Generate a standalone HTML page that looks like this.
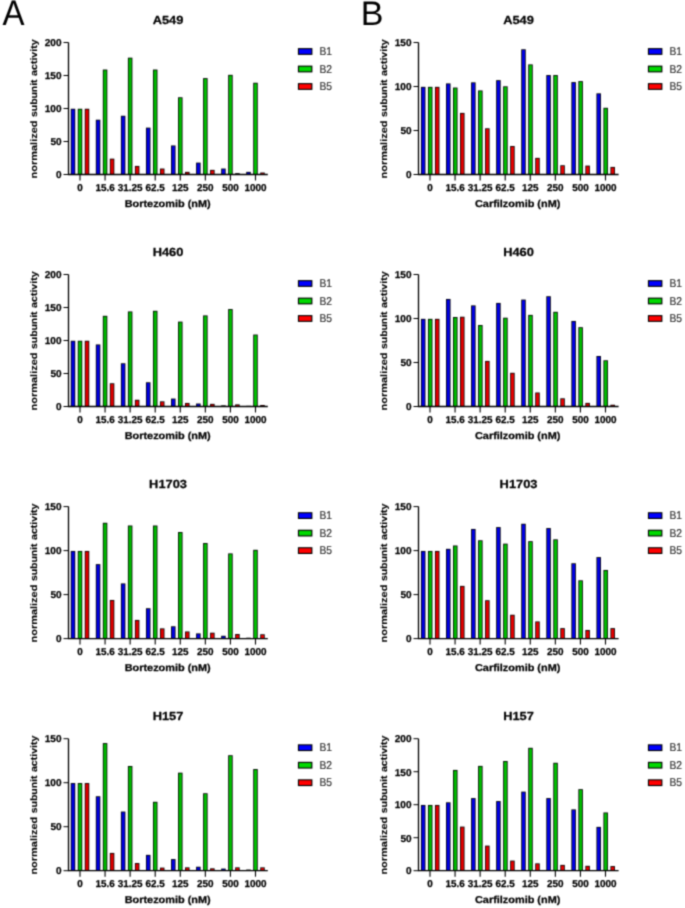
<!DOCTYPE html>
<html><head><meta charset="utf-8"><title>Proteasome subunit activity</title>
<style>
html,body{margin:0;padding:0;background:#fff;}
body{width:685px;height:908px;overflow:hidden;}
svg{display:block;}
text{font-family:"Liberation Sans",sans-serif;fill:#000;text-rendering:geometricPrecision;stroke:#000;stroke-width:0.25px;stroke-linejoin:round;}
.pl{stroke:none;}
.ya{stroke-width:0.1px;}
.lg{stroke:#333;stroke-width:0.2px;}
.yt{font-size:10px;font-weight:bold;text-anchor:end;}
.xt{font-size:10px;font-weight:bold;text-anchor:middle;}
.ti{font-size:11.7px;font-weight:bold;text-anchor:middle;}
.xa{font-size:10px;font-weight:bold;text-anchor:middle;}
.ya{font-size:9.4px;font-weight:bold;text-anchor:start;}
.lg{font-size:11.4px;text-anchor:start;fill:#333;}
.pl{font-size:34px;}
</style></head>
<body>
<svg width="685" height="908" viewBox="0 0 685 908">
<defs><filter id="bl" x="0" y="0" width="685" height="908" filterUnits="userSpaceOnUse" color-interpolation-filters="sRGB"><feConvolveMatrix order="3" kernelMatrix="0.03607 0.11778 0.03607 0.11778 0.38462 0.11778 0.03607 0.11778 0.03607" divisor="1" edgeMode="duplicate" preserveAlpha="true"/></filter></defs>
<g filter="url(#bl)">
<rect width="685" height="908" fill="#fff"/>
<text transform="translate(2.5 25) scale(0.93 1)" class="pl" style="font-size:35.5px">A</text>
<text x="360.8" y="25" class="pl">B</text>
<g>
<rect x="70.75" y="108.76" width="4.5" height="65.74" fill="#000"/>
<rect x="71.55" y="109.56" width="2.9" height="64.94" fill="#0000e6"/>
<rect x="77.75" y="108.76" width="4.5" height="65.74" fill="#000"/>
<rect x="78.55" y="109.56" width="2.9" height="64.94" fill="#00be00"/>
<rect x="84.75" y="108.76" width="4.5" height="65.74" fill="#000"/>
<rect x="85.55" y="109.56" width="2.9" height="64.94" fill="#e60000"/>
<rect x="95.82" y="119.72" width="4.5" height="54.78" fill="#000"/>
<rect x="96.62" y="120.52" width="2.9" height="53.98" fill="#0000e6"/>
<rect x="102.82" y="69.56" width="4.5" height="104.94" fill="#000"/>
<rect x="103.62" y="70.36" width="2.9" height="104.14" fill="#00be00"/>
<rect x="109.82" y="158.66" width="4.5" height="15.84" fill="#000"/>
<rect x="110.62" y="159.46" width="2.9" height="15.04" fill="#e60000"/>
<rect x="120.89" y="115.76" width="4.5" height="58.74" fill="#000"/>
<rect x="121.69" y="116.56" width="2.9" height="57.94" fill="#0000e6"/>
<rect x="127.89" y="57.68" width="4.5" height="116.82" fill="#000"/>
<rect x="128.69" y="58.48" width="2.9" height="116.02" fill="#00be00"/>
<rect x="134.89" y="165.92" width="4.5" height="8.58" fill="#000"/>
<rect x="135.69" y="166.72" width="2.9" height="7.78" fill="#e60000"/>
<rect x="145.96" y="127.64" width="4.5" height="46.86" fill="#000"/>
<rect x="146.76" y="128.44" width="2.9" height="46.06" fill="#0000e6"/>
<rect x="152.96" y="69.56" width="4.5" height="104.94" fill="#000"/>
<rect x="153.76" y="70.36" width="2.9" height="104.14" fill="#00be00"/>
<rect x="159.96" y="168.56" width="4.5" height="5.94" fill="#000"/>
<rect x="160.76" y="169.36" width="2.9" height="5.14" fill="#e60000"/>
<rect x="171.03" y="145.46" width="4.5" height="29.04" fill="#000"/>
<rect x="171.83" y="146.26" width="2.9" height="28.24" fill="#0000e6"/>
<rect x="178.03" y="97.28" width="4.5" height="77.22" fill="#000"/>
<rect x="178.83" y="98.08" width="2.9" height="76.42" fill="#00be00"/>
<rect x="185.03" y="171.86" width="4.5" height="2.64" fill="#000"/>
<rect x="185.83" y="172.66" width="2.9" height="1.84" fill="#e60000"/>
<rect x="196.1" y="162.62" width="4.5" height="11.88" fill="#000"/>
<rect x="196.9" y="163.42" width="2.9" height="11.08" fill="#0000e6"/>
<rect x="203.1" y="78.14" width="4.5" height="96.36" fill="#000"/>
<rect x="203.9" y="78.94" width="2.9" height="95.56" fill="#00be00"/>
<rect x="210.1" y="169.88" width="4.5" height="4.62" fill="#000"/>
<rect x="210.9" y="170.68" width="2.9" height="3.82" fill="#e60000"/>
<rect x="221.17" y="168.56" width="4.5" height="5.94" fill="#000"/>
<rect x="221.97" y="169.36" width="2.9" height="5.14" fill="#0000e6"/>
<rect x="228.17" y="74.84" width="4.5" height="99.66" fill="#000"/>
<rect x="228.97" y="75.64" width="2.9" height="98.86" fill="#00be00"/>
<rect x="235.17" y="173.18" width="4.5" height="1.32" fill="#000"/>
<rect x="235.97" y="173.98" width="2.9" height="0.52" fill="#e60000"/>
<rect x="246.24" y="171.86" width="4.5" height="2.64" fill="#000"/>
<rect x="247.04" y="172.66" width="2.9" height="1.84" fill="#0000e6"/>
<rect x="253.24" y="82.76" width="4.5" height="91.74" fill="#000"/>
<rect x="254.04" y="83.56" width="2.9" height="90.94" fill="#00be00"/>
<rect x="260.24" y="172.52" width="4.5" height="1.98" fill="#000"/>
<rect x="261.04" y="173.32" width="2.9" height="1.18" fill="#e60000"/>
<path d="M68.5 42.5V174.5H267.8" fill="none" stroke="#000" stroke-width="1.3"/>
<path d="M63.5 174.5H68.5" stroke="#000" stroke-width="1"/>
<text x="61.5" y="178" class="yt">0</text>
<path d="M63.5 141.5H68.5" stroke="#000" stroke-width="1"/>
<text x="61.5" y="145" class="yt">50</text>
<path d="M63.5 108.5H68.5" stroke="#000" stroke-width="1"/>
<text x="61.5" y="112" class="yt">100</text>
<path d="M63.5 75.5H68.5" stroke="#000" stroke-width="1"/>
<text x="61.5" y="79" class="yt">150</text>
<path d="M63.5 42.5H68.5" stroke="#000" stroke-width="1"/>
<text x="61.5" y="46" class="yt">200</text>
<path d="M80 174.5V180.5" stroke="#000" stroke-width="1.1"/>
<text transform="translate(80 190.8) scale(0.99 1)" class="xt">0</text>
<path d="M105.07 174.5V180.5" stroke="#000" stroke-width="1.1"/>
<text transform="translate(105.07 190.8) scale(0.99 1)" class="xt">15.6</text>
<path d="M130.14 174.5V180.5" stroke="#000" stroke-width="1.1"/>
<text transform="translate(130.14 190.8) scale(0.99 1)" class="xt">31.25</text>
<path d="M155.21 174.5V180.5" stroke="#000" stroke-width="1.1"/>
<text transform="translate(155.21 190.8) scale(0.99 1)" class="xt">62.5</text>
<path d="M180.28 174.5V180.5" stroke="#000" stroke-width="1.1"/>
<text transform="translate(180.28 190.8) scale(0.99 1)" class="xt">125</text>
<path d="M205.35 174.5V180.5" stroke="#000" stroke-width="1.1"/>
<text transform="translate(205.35 190.8) scale(0.99 1)" class="xt">250</text>
<path d="M230.42 174.5V180.5" stroke="#000" stroke-width="1.1"/>
<text transform="translate(230.42 190.8) scale(0.99 1)" class="xt">500</text>
<path d="M255.49 174.5V180.5" stroke="#000" stroke-width="1.1"/>
<text transform="translate(255.49 190.8) scale(0.99 1)" class="xt">1000</text>
<text transform="translate(168.05 24.2) scale(1.1 1)" class="ti">A549</text>
<text transform="translate(167.65 207) scale(1.09 1)" class="xa">Bortezomib (nM)</text>
<text transform="translate(37.3 178.4) rotate(-90) scale(1.17 1)" class="ya">normalized</text>
<text transform="translate(37.3 117) rotate(-90) scale(1.11 1)" class="ya">subunit</text>
<text transform="translate(37.3 75.9) rotate(-90) scale(1.13 1)" class="ya">activity</text>
<rect x="297.9" y="48.1" width="14.5" height="6.8" fill="#000"/>
<rect x="299" y="49.2" width="12.3" height="4.6" fill="#0000ff"/>
<text transform="translate(319.5 55.1) scale(0.9 1)" class="lg">B1</text>
<rect x="297.9" y="65.6" width="14.5" height="6.8" fill="#000"/>
<rect x="299" y="66.7" width="12.3" height="4.6" fill="#00d800"/>
<text transform="translate(319.5 72.6) scale(0.9 1)" class="lg">B2</text>
<rect x="297.9" y="83.1" width="14.5" height="6.8" fill="#000"/>
<rect x="299" y="84.2" width="12.3" height="4.6" fill="#ff0000"/>
<text transform="translate(319.5 90.1) scale(0.9 1)" class="lg">B5</text>
</g>
<g>
<rect x="70.75" y="340.76" width="4.5" height="65.74" fill="#000"/>
<rect x="71.55" y="341.56" width="2.9" height="64.94" fill="#0000e6"/>
<rect x="77.75" y="340.76" width="4.5" height="65.74" fill="#000"/>
<rect x="78.55" y="341.56" width="2.9" height="64.94" fill="#00be00"/>
<rect x="84.75" y="340.76" width="4.5" height="65.74" fill="#000"/>
<rect x="85.55" y="341.56" width="2.9" height="64.94" fill="#e60000"/>
<rect x="95.82" y="344.46" width="4.5" height="62.04" fill="#000"/>
<rect x="96.62" y="345.26" width="2.9" height="61.24" fill="#0000e6"/>
<rect x="102.82" y="315.82" width="4.5" height="90.68" fill="#000"/>
<rect x="103.62" y="316.62" width="2.9" height="89.88" fill="#00be00"/>
<rect x="109.82" y="383.27" width="4.5" height="23.23" fill="#000"/>
<rect x="110.62" y="384.07" width="2.9" height="22.43" fill="#e60000"/>
<rect x="120.89" y="363.27" width="4.5" height="43.23" fill="#000"/>
<rect x="121.69" y="364.07" width="2.9" height="42.43" fill="#0000e6"/>
<rect x="127.89" y="311.46" width="4.5" height="95.04" fill="#000"/>
<rect x="128.69" y="312.26" width="2.9" height="94.24" fill="#00be00"/>
<rect x="134.89" y="399.77" width="4.5" height="6.73" fill="#000"/>
<rect x="135.69" y="400.57" width="2.9" height="5.93" fill="#e60000"/>
<rect x="145.96" y="382.28" width="4.5" height="24.22" fill="#000"/>
<rect x="146.76" y="383.08" width="2.9" height="23.42" fill="#0000e6"/>
<rect x="152.96" y="310.8" width="4.5" height="95.7" fill="#000"/>
<rect x="153.76" y="311.6" width="2.9" height="94.9" fill="#00be00"/>
<rect x="159.96" y="401.35" width="4.5" height="5.15" fill="#000"/>
<rect x="160.76" y="402.15" width="2.9" height="4.35" fill="#e60000"/>
<rect x="171.03" y="398.58" width="4.5" height="7.92" fill="#000"/>
<rect x="171.83" y="399.38" width="2.9" height="7.12" fill="#0000e6"/>
<rect x="178.03" y="321.62" width="4.5" height="84.88" fill="#000"/>
<rect x="178.83" y="322.42" width="2.9" height="84.08" fill="#00be00"/>
<rect x="185.03" y="402.94" width="4.5" height="3.56" fill="#000"/>
<rect x="185.83" y="403.74" width="2.9" height="2.76" fill="#e60000"/>
<rect x="196.1" y="403.53" width="4.5" height="2.97" fill="#000"/>
<rect x="196.9" y="404.33" width="2.9" height="2.17" fill="#0000e6"/>
<rect x="203.1" y="315.42" width="4.5" height="91.08" fill="#000"/>
<rect x="203.9" y="316.22" width="2.9" height="90.28" fill="#00be00"/>
<rect x="210.1" y="403.86" width="4.5" height="2.64" fill="#000"/>
<rect x="210.9" y="404.66" width="2.9" height="1.84" fill="#e60000"/>
<rect x="221.17" y="405.38" width="4.5" height="1.12" fill="#000"/>
<rect x="221.97" y="406.18" width="2.9" height="0.32" fill="#0000e6"/>
<rect x="228.17" y="309.08" width="4.5" height="97.42" fill="#000"/>
<rect x="228.97" y="309.88" width="2.9" height="96.62" fill="#00be00"/>
<rect x="235.17" y="404.39" width="4.5" height="2.11" fill="#000"/>
<rect x="235.97" y="405.19" width="2.9" height="1.31" fill="#e60000"/>
<rect x="246.24" y="405.84" width="4.5" height="0.66" fill="#000"/>
<rect x="253.24" y="334.56" width="4.5" height="71.94" fill="#000"/>
<rect x="254.04" y="335.36" width="2.9" height="71.14" fill="#00be00"/>
<rect x="260.24" y="404.98" width="4.5" height="1.52" fill="#000"/>
<rect x="261.04" y="405.78" width="2.9" height="0.72" fill="#e60000"/>
<path d="M68.5 274.5V406.5H267.8" fill="none" stroke="#000" stroke-width="1.3"/>
<path d="M63.5 406.5H68.5" stroke="#000" stroke-width="1"/>
<text x="61.5" y="410" class="yt">0</text>
<path d="M63.5 373.5H68.5" stroke="#000" stroke-width="1"/>
<text x="61.5" y="377" class="yt">50</text>
<path d="M63.5 340.5H68.5" stroke="#000" stroke-width="1"/>
<text x="61.5" y="344" class="yt">100</text>
<path d="M63.5 307.5H68.5" stroke="#000" stroke-width="1"/>
<text x="61.5" y="311" class="yt">150</text>
<path d="M63.5 274.5H68.5" stroke="#000" stroke-width="1"/>
<text x="61.5" y="278" class="yt">200</text>
<path d="M80 406.5V412.5" stroke="#000" stroke-width="1.1"/>
<text transform="translate(80 422.8) scale(0.99 1)" class="xt">0</text>
<path d="M105.07 406.5V412.5" stroke="#000" stroke-width="1.1"/>
<text transform="translate(105.07 422.8) scale(0.99 1)" class="xt">15.6</text>
<path d="M130.14 406.5V412.5" stroke="#000" stroke-width="1.1"/>
<text transform="translate(130.14 422.8) scale(0.99 1)" class="xt">31.25</text>
<path d="M155.21 406.5V412.5" stroke="#000" stroke-width="1.1"/>
<text transform="translate(155.21 422.8) scale(0.99 1)" class="xt">62.5</text>
<path d="M180.28 406.5V412.5" stroke="#000" stroke-width="1.1"/>
<text transform="translate(180.28 422.8) scale(0.99 1)" class="xt">125</text>
<path d="M205.35 406.5V412.5" stroke="#000" stroke-width="1.1"/>
<text transform="translate(205.35 422.8) scale(0.99 1)" class="xt">250</text>
<path d="M230.42 406.5V412.5" stroke="#000" stroke-width="1.1"/>
<text transform="translate(230.42 422.8) scale(0.99 1)" class="xt">500</text>
<path d="M255.49 406.5V412.5" stroke="#000" stroke-width="1.1"/>
<text transform="translate(255.49 422.8) scale(0.99 1)" class="xt">1000</text>
<text transform="translate(168.05 256.2) scale(1.1 1)" class="ti">H460</text>
<text transform="translate(167.65 439) scale(1.09 1)" class="xa">Bortezomib (nM)</text>
<text transform="translate(37.3 410.4) rotate(-90) scale(1.17 1)" class="ya">normalized</text>
<text transform="translate(37.3 349) rotate(-90) scale(1.11 1)" class="ya">subunit</text>
<text transform="translate(37.3 307.9) rotate(-90) scale(1.13 1)" class="ya">activity</text>
<rect x="297.9" y="280.1" width="14.5" height="6.8" fill="#000"/>
<rect x="299" y="281.2" width="12.3" height="4.6" fill="#0000ff"/>
<text transform="translate(319.5 287.1) scale(0.9 1)" class="lg">B1</text>
<rect x="297.9" y="297.6" width="14.5" height="6.8" fill="#000"/>
<rect x="299" y="298.7" width="12.3" height="4.6" fill="#00d800"/>
<text transform="translate(319.5 304.6) scale(0.9 1)" class="lg">B2</text>
<rect x="297.9" y="315.1" width="14.5" height="6.8" fill="#000"/>
<rect x="299" y="316.2" width="12.3" height="4.6" fill="#ff0000"/>
<text transform="translate(319.5 322.1) scale(0.9 1)" class="lg">B5</text>
</g>
<g>
<rect x="70.75" y="550.95" width="4.5" height="87.65" fill="#000"/>
<rect x="71.55" y="551.75" width="2.9" height="86.85" fill="#0000e6"/>
<rect x="77.75" y="550.95" width="4.5" height="87.65" fill="#000"/>
<rect x="78.55" y="551.75" width="2.9" height="86.85" fill="#00be00"/>
<rect x="84.75" y="550.95" width="4.5" height="87.65" fill="#000"/>
<rect x="85.55" y="551.75" width="2.9" height="86.85" fill="#e60000"/>
<rect x="95.82" y="564.15" width="4.5" height="74.45" fill="#000"/>
<rect x="96.62" y="564.95" width="2.9" height="73.65" fill="#0000e6"/>
<rect x="102.82" y="522.79" width="4.5" height="115.81" fill="#000"/>
<rect x="103.62" y="523.59" width="2.9" height="115.01" fill="#00be00"/>
<rect x="109.82" y="599.97" width="4.5" height="38.63" fill="#000"/>
<rect x="110.62" y="600.77" width="2.9" height="37.83" fill="#e60000"/>
<rect x="120.89" y="583.42" width="4.5" height="55.18" fill="#000"/>
<rect x="121.69" y="584.22" width="2.9" height="54.38" fill="#0000e6"/>
<rect x="127.89" y="525.52" width="4.5" height="113.08" fill="#000"/>
<rect x="128.69" y="526.32" width="2.9" height="112.28" fill="#00be00"/>
<rect x="134.89" y="619.94" width="4.5" height="18.66" fill="#000"/>
<rect x="135.69" y="620.74" width="2.9" height="17.86" fill="#e60000"/>
<rect x="145.96" y="608.24" width="4.5" height="30.36" fill="#000"/>
<rect x="146.76" y="609.04" width="2.9" height="29.56" fill="#0000e6"/>
<rect x="152.96" y="525.52" width="4.5" height="113.08" fill="#000"/>
<rect x="153.76" y="526.32" width="2.9" height="112.28" fill="#00be00"/>
<rect x="159.96" y="628.39" width="4.5" height="10.21" fill="#000"/>
<rect x="160.76" y="629.19" width="2.9" height="9.41" fill="#e60000"/>
<rect x="171.03" y="626.28" width="4.5" height="12.32" fill="#000"/>
<rect x="171.83" y="627.08" width="2.9" height="11.52" fill="#0000e6"/>
<rect x="178.03" y="532.03" width="4.5" height="106.57" fill="#000"/>
<rect x="178.83" y="532.83" width="2.9" height="105.77" fill="#00be00"/>
<rect x="185.03" y="631.47" width="4.5" height="7.13" fill="#000"/>
<rect x="185.83" y="632.27" width="2.9" height="6.33" fill="#e60000"/>
<rect x="196.1" y="633.41" width="4.5" height="5.19" fill="#000"/>
<rect x="196.9" y="634.21" width="2.9" height="4.39" fill="#0000e6"/>
<rect x="203.1" y="543.03" width="4.5" height="95.57" fill="#000"/>
<rect x="203.9" y="543.83" width="2.9" height="94.77" fill="#00be00"/>
<rect x="210.1" y="632.7" width="4.5" height="5.9" fill="#000"/>
<rect x="210.9" y="633.5" width="2.9" height="5.1" fill="#e60000"/>
<rect x="221.17" y="635.78" width="4.5" height="2.82" fill="#000"/>
<rect x="221.97" y="636.58" width="2.9" height="2.02" fill="#0000e6"/>
<rect x="228.17" y="553.42" width="4.5" height="85.18" fill="#000"/>
<rect x="228.97" y="554.22" width="2.9" height="84.38" fill="#00be00"/>
<rect x="235.17" y="634.02" width="4.5" height="4.58" fill="#000"/>
<rect x="235.97" y="634.82" width="2.9" height="3.78" fill="#e60000"/>
<rect x="246.24" y="637.72" width="4.5" height="0.88" fill="#000"/>
<rect x="253.24" y="549.81" width="4.5" height="88.79" fill="#000"/>
<rect x="254.04" y="550.61" width="2.9" height="87.99" fill="#00be00"/>
<rect x="260.24" y="634.29" width="4.5" height="4.31" fill="#000"/>
<rect x="261.04" y="635.09" width="2.9" height="3.51" fill="#e60000"/>
<path d="M68.5 506.6V638.6H267.8" fill="none" stroke="#000" stroke-width="1.3"/>
<path d="M63.5 638.6H68.5" stroke="#000" stroke-width="1"/>
<text x="61.5" y="642" class="yt">0</text>
<path d="M63.5 594.6H68.5" stroke="#000" stroke-width="1"/>
<text x="61.5" y="598" class="yt">50</text>
<path d="M63.5 550.6H68.5" stroke="#000" stroke-width="1"/>
<text x="61.5" y="554" class="yt">100</text>
<path d="M63.5 506.6H68.5" stroke="#000" stroke-width="1"/>
<text x="61.5" y="510" class="yt">150</text>
<path d="M80 638.6V644.6" stroke="#000" stroke-width="1.1"/>
<text transform="translate(80 654.9) scale(0.99 1)" class="xt">0</text>
<path d="M105.07 638.6V644.6" stroke="#000" stroke-width="1.1"/>
<text transform="translate(105.07 654.9) scale(0.99 1)" class="xt">15.6</text>
<path d="M130.14 638.6V644.6" stroke="#000" stroke-width="1.1"/>
<text transform="translate(130.14 654.9) scale(0.99 1)" class="xt">31.25</text>
<path d="M155.21 638.6V644.6" stroke="#000" stroke-width="1.1"/>
<text transform="translate(155.21 654.9) scale(0.99 1)" class="xt">62.5</text>
<path d="M180.28 638.6V644.6" stroke="#000" stroke-width="1.1"/>
<text transform="translate(180.28 654.9) scale(0.99 1)" class="xt">125</text>
<path d="M205.35 638.6V644.6" stroke="#000" stroke-width="1.1"/>
<text transform="translate(205.35 654.9) scale(0.99 1)" class="xt">250</text>
<path d="M230.42 638.6V644.6" stroke="#000" stroke-width="1.1"/>
<text transform="translate(230.42 654.9) scale(0.99 1)" class="xt">500</text>
<path d="M255.49 638.6V644.6" stroke="#000" stroke-width="1.1"/>
<text transform="translate(255.49 654.9) scale(0.99 1)" class="xt">1000</text>
<text transform="translate(168.05 488.3) scale(1.1 1)" class="ti">H1703</text>
<text transform="translate(167.65 671.1) scale(1.09 1)" class="xa">Bortezomib (nM)</text>
<text transform="translate(37.3 642.5) rotate(-90) scale(1.17 1)" class="ya">normalized</text>
<text transform="translate(37.3 581.1) rotate(-90) scale(1.11 1)" class="ya">subunit</text>
<text transform="translate(37.3 540) rotate(-90) scale(1.13 1)" class="ya">activity</text>
<rect x="297.9" y="512.2" width="14.5" height="6.8" fill="#000"/>
<rect x="299" y="513.3" width="12.3" height="4.6" fill="#0000ff"/>
<text transform="translate(319.5 519.2) scale(0.9 1)" class="lg">B1</text>
<rect x="297.9" y="529.7" width="14.5" height="6.8" fill="#000"/>
<rect x="299" y="530.8" width="12.3" height="4.6" fill="#00d800"/>
<text transform="translate(319.5 536.7) scale(0.9 1)" class="lg">B2</text>
<rect x="297.9" y="547.2" width="14.5" height="6.8" fill="#000"/>
<rect x="299" y="548.3" width="12.3" height="4.6" fill="#ff0000"/>
<text transform="translate(319.5 554.2) scale(0.9 1)" class="lg">B5</text>
</g>
<g>
<rect x="70.75" y="783.05" width="4.5" height="87.65" fill="#000"/>
<rect x="71.55" y="783.85" width="2.9" height="86.85" fill="#0000e6"/>
<rect x="77.75" y="783.05" width="4.5" height="87.65" fill="#000"/>
<rect x="78.55" y="783.85" width="2.9" height="86.85" fill="#00be00"/>
<rect x="84.75" y="783.05" width="4.5" height="87.65" fill="#000"/>
<rect x="85.55" y="783.85" width="2.9" height="86.85" fill="#e60000"/>
<rect x="95.82" y="796.25" width="4.5" height="74.45" fill="#000"/>
<rect x="96.62" y="797.05" width="2.9" height="73.65" fill="#0000e6"/>
<rect x="102.82" y="743.1" width="4.5" height="127.6" fill="#000"/>
<rect x="103.62" y="743.9" width="2.9" height="126.8" fill="#00be00"/>
<rect x="109.82" y="852.92" width="4.5" height="17.78" fill="#000"/>
<rect x="110.62" y="853.72" width="2.9" height="16.98" fill="#e60000"/>
<rect x="120.89" y="811.56" width="4.5" height="59.14" fill="#000"/>
<rect x="121.69" y="812.36" width="2.9" height="58.34" fill="#0000e6"/>
<rect x="127.89" y="765.98" width="4.5" height="104.72" fill="#000"/>
<rect x="128.69" y="766.78" width="2.9" height="103.92" fill="#00be00"/>
<rect x="134.89" y="863.04" width="4.5" height="7.66" fill="#000"/>
<rect x="135.69" y="863.84" width="2.9" height="6.86" fill="#e60000"/>
<rect x="145.96" y="854.86" width="4.5" height="15.84" fill="#000"/>
<rect x="146.76" y="855.66" width="2.9" height="15.04" fill="#0000e6"/>
<rect x="152.96" y="801.8" width="4.5" height="68.9" fill="#000"/>
<rect x="153.76" y="802.6" width="2.9" height="68.1" fill="#00be00"/>
<rect x="159.96" y="867.62" width="4.5" height="3.08" fill="#000"/>
<rect x="160.76" y="868.42" width="2.9" height="2.28" fill="#e60000"/>
<rect x="171.03" y="859.08" width="4.5" height="11.62" fill="#000"/>
<rect x="171.83" y="859.88" width="2.9" height="10.82" fill="#0000e6"/>
<rect x="178.03" y="772.67" width="4.5" height="98.03" fill="#000"/>
<rect x="178.83" y="773.47" width="2.9" height="97.23" fill="#00be00"/>
<rect x="185.03" y="867.36" width="4.5" height="3.34" fill="#000"/>
<rect x="185.83" y="868.16" width="2.9" height="2.54" fill="#e60000"/>
<rect x="196.1" y="866.74" width="4.5" height="3.96" fill="#000"/>
<rect x="196.9" y="867.54" width="2.9" height="3.16" fill="#0000e6"/>
<rect x="203.1" y="793.26" width="4.5" height="77.44" fill="#000"/>
<rect x="203.9" y="794.06" width="2.9" height="76.64" fill="#00be00"/>
<rect x="210.1" y="868.32" width="4.5" height="2.38" fill="#000"/>
<rect x="210.9" y="869.12" width="2.9" height="1.58" fill="#e60000"/>
<rect x="221.17" y="868.59" width="4.5" height="2.11" fill="#000"/>
<rect x="221.97" y="869.39" width="2.9" height="1.31" fill="#0000e6"/>
<rect x="228.17" y="755.24" width="4.5" height="115.46" fill="#000"/>
<rect x="228.97" y="756.04" width="2.9" height="114.66" fill="#00be00"/>
<rect x="235.17" y="867.36" width="4.5" height="3.34" fill="#000"/>
<rect x="235.97" y="868.16" width="2.9" height="2.54" fill="#e60000"/>
<rect x="246.24" y="869.56" width="4.5" height="1.14" fill="#000"/>
<rect x="247.04" y="870.36" width="2.9" height="0.34" fill="#0000e6"/>
<rect x="253.24" y="769.06" width="4.5" height="101.64" fill="#000"/>
<rect x="254.04" y="769.86" width="2.9" height="100.84" fill="#00be00"/>
<rect x="260.24" y="867.36" width="4.5" height="3.34" fill="#000"/>
<rect x="261.04" y="868.16" width="2.9" height="2.54" fill="#e60000"/>
<path d="M68.5 738.7V870.7H267.8" fill="none" stroke="#000" stroke-width="1.3"/>
<path d="M63.5 870.7H68.5" stroke="#000" stroke-width="1"/>
<text x="61.5" y="874" class="yt">0</text>
<path d="M63.5 826.7H68.5" stroke="#000" stroke-width="1"/>
<text x="61.5" y="830" class="yt">50</text>
<path d="M63.5 782.7H68.5" stroke="#000" stroke-width="1"/>
<text x="61.5" y="786" class="yt">100</text>
<path d="M63.5 738.7H68.5" stroke="#000" stroke-width="1"/>
<text x="61.5" y="742" class="yt">150</text>
<path d="M80 870.7V876.7" stroke="#000" stroke-width="1.1"/>
<text transform="translate(80 887) scale(0.99 1)" class="xt">0</text>
<path d="M105.07 870.7V876.7" stroke="#000" stroke-width="1.1"/>
<text transform="translate(105.07 887) scale(0.99 1)" class="xt">15.6</text>
<path d="M130.14 870.7V876.7" stroke="#000" stroke-width="1.1"/>
<text transform="translate(130.14 887) scale(0.99 1)" class="xt">31.25</text>
<path d="M155.21 870.7V876.7" stroke="#000" stroke-width="1.1"/>
<text transform="translate(155.21 887) scale(0.99 1)" class="xt">62.5</text>
<path d="M180.28 870.7V876.7" stroke="#000" stroke-width="1.1"/>
<text transform="translate(180.28 887) scale(0.99 1)" class="xt">125</text>
<path d="M205.35 870.7V876.7" stroke="#000" stroke-width="1.1"/>
<text transform="translate(205.35 887) scale(0.99 1)" class="xt">250</text>
<path d="M230.42 870.7V876.7" stroke="#000" stroke-width="1.1"/>
<text transform="translate(230.42 887) scale(0.99 1)" class="xt">500</text>
<path d="M255.49 870.7V876.7" stroke="#000" stroke-width="1.1"/>
<text transform="translate(255.49 887) scale(0.99 1)" class="xt">1000</text>
<text transform="translate(168.05 720.4) scale(1.1 1)" class="ti">H157</text>
<text transform="translate(167.65 903.2) scale(1.09 1)" class="xa">Bortezomib (nM)</text>
<text transform="translate(37.3 874.6) rotate(-90) scale(1.17 1)" class="ya">normalized</text>
<text transform="translate(37.3 813.2) rotate(-90) scale(1.11 1)" class="ya">subunit</text>
<text transform="translate(37.3 772.1) rotate(-90) scale(1.13 1)" class="ya">activity</text>
<rect x="297.9" y="744.3" width="14.5" height="6.8" fill="#000"/>
<rect x="299" y="745.4" width="12.3" height="4.6" fill="#0000ff"/>
<text transform="translate(319.5 751.3) scale(0.9 1)" class="lg">B1</text>
<rect x="297.9" y="761.8" width="14.5" height="6.8" fill="#000"/>
<rect x="299" y="762.9" width="12.3" height="4.6" fill="#00d800"/>
<text transform="translate(319.5 768.8) scale(0.9 1)" class="lg">B2</text>
<rect x="297.9" y="779.3" width="14.5" height="6.8" fill="#000"/>
<rect x="299" y="780.4" width="12.3" height="4.6" fill="#ff0000"/>
<text transform="translate(319.5 786.3) scale(0.9 1)" class="lg">B5</text>
</g>
<g>
<rect x="420.95" y="86.85" width="4.5" height="87.65" fill="#000"/>
<rect x="421.75" y="87.65" width="2.9" height="86.85" fill="#0000e6"/>
<rect x="427.95" y="86.85" width="4.5" height="87.65" fill="#000"/>
<rect x="428.75" y="87.65" width="2.9" height="86.85" fill="#00be00"/>
<rect x="434.95" y="86.85" width="4.5" height="87.65" fill="#000"/>
<rect x="435.75" y="87.65" width="2.9" height="86.85" fill="#e60000"/>
<rect x="446.02" y="83.42" width="4.5" height="91.08" fill="#000"/>
<rect x="446.82" y="84.22" width="2.9" height="90.28" fill="#0000e6"/>
<rect x="453.02" y="87.56" width="4.5" height="86.94" fill="#000"/>
<rect x="453.82" y="88.36" width="2.9" height="86.14" fill="#00be00"/>
<rect x="460.02" y="112.9" width="4.5" height="61.6" fill="#000"/>
<rect x="460.82" y="113.7" width="2.9" height="60.8" fill="#e60000"/>
<rect x="471.09" y="82.36" width="4.5" height="92.14" fill="#000"/>
<rect x="471.89" y="83.16" width="2.9" height="91.34" fill="#0000e6"/>
<rect x="478.09" y="90.46" width="4.5" height="84.04" fill="#000"/>
<rect x="478.89" y="91.26" width="2.9" height="83.24" fill="#00be00"/>
<rect x="485.09" y="128.3" width="4.5" height="46.2" fill="#000"/>
<rect x="485.89" y="129.1" width="2.9" height="45.4" fill="#e60000"/>
<rect x="496.16" y="80.16" width="4.5" height="94.34" fill="#000"/>
<rect x="496.96" y="80.96" width="2.9" height="93.54" fill="#0000e6"/>
<rect x="503.16" y="86.32" width="4.5" height="88.18" fill="#000"/>
<rect x="503.96" y="87.12" width="2.9" height="87.38" fill="#00be00"/>
<rect x="510.16" y="145.99" width="4.5" height="28.51" fill="#000"/>
<rect x="510.96" y="146.79" width="2.9" height="27.71" fill="#e60000"/>
<rect x="521.23" y="49.28" width="4.5" height="125.22" fill="#000"/>
<rect x="522.03" y="50.08" width="2.9" height="124.42" fill="#0000e6"/>
<rect x="528.23" y="64.41" width="4.5" height="110.09" fill="#000"/>
<rect x="529.03" y="65.21" width="2.9" height="109.29" fill="#00be00"/>
<rect x="535.23" y="157.87" width="4.5" height="16.63" fill="#000"/>
<rect x="536.03" y="158.67" width="2.9" height="15.83" fill="#e60000"/>
<rect x="546.3" y="75.06" width="4.5" height="99.44" fill="#000"/>
<rect x="547.1" y="75.86" width="2.9" height="98.64" fill="#0000e6"/>
<rect x="553.3" y="75.06" width="4.5" height="99.44" fill="#000"/>
<rect x="554.1" y="75.86" width="2.9" height="98.64" fill="#00be00"/>
<rect x="560.3" y="165.26" width="4.5" height="9.24" fill="#000"/>
<rect x="561.1" y="166.06" width="2.9" height="8.44" fill="#e60000"/>
<rect x="571.37" y="82.1" width="4.5" height="92.4" fill="#000"/>
<rect x="572.17" y="82.9" width="2.9" height="91.6" fill="#0000e6"/>
<rect x="578.37" y="81.13" width="4.5" height="93.37" fill="#000"/>
<rect x="579.17" y="81.93" width="2.9" height="92.57" fill="#00be00"/>
<rect x="585.37" y="165.61" width="4.5" height="8.89" fill="#000"/>
<rect x="586.17" y="166.41" width="2.9" height="8.09" fill="#e60000"/>
<rect x="596.44" y="93.36" width="4.5" height="81.14" fill="#000"/>
<rect x="597.24" y="94.16" width="2.9" height="80.34" fill="#0000e6"/>
<rect x="603.44" y="107.8" width="4.5" height="66.7" fill="#000"/>
<rect x="604.24" y="108.6" width="2.9" height="65.9" fill="#00be00"/>
<rect x="610.44" y="166.93" width="4.5" height="7.57" fill="#000"/>
<rect x="611.24" y="167.73" width="2.9" height="6.77" fill="#e60000"/>
<path d="M418.5 42.5V174.5H618.6" fill="none" stroke="#000" stroke-width="1.3"/>
<path d="M413.5 174.5H418.5" stroke="#000" stroke-width="1"/>
<text x="411.5" y="178" class="yt">0</text>
<path d="M413.5 130.5H418.5" stroke="#000" stroke-width="1"/>
<text x="411.5" y="134" class="yt">50</text>
<path d="M413.5 86.5H418.5" stroke="#000" stroke-width="1"/>
<text x="411.5" y="90" class="yt">100</text>
<path d="M413.5 42.5H418.5" stroke="#000" stroke-width="1"/>
<text x="411.5" y="46" class="yt">150</text>
<path d="M430 174.5V180.5" stroke="#000" stroke-width="1.1"/>
<text transform="translate(430 190.8) scale(0.99 1)" class="xt">0</text>
<path d="M455.07 174.5V180.5" stroke="#000" stroke-width="1.1"/>
<text transform="translate(455.07 190.8) scale(0.99 1)" class="xt">15.6</text>
<path d="M480.14 174.5V180.5" stroke="#000" stroke-width="1.1"/>
<text transform="translate(480.14 190.8) scale(0.99 1)" class="xt">31.25</text>
<path d="M505.21 174.5V180.5" stroke="#000" stroke-width="1.1"/>
<text transform="translate(505.21 190.8) scale(0.99 1)" class="xt">62.5</text>
<path d="M530.28 174.5V180.5" stroke="#000" stroke-width="1.1"/>
<text transform="translate(530.28 190.8) scale(0.99 1)" class="xt">125</text>
<path d="M555.35 174.5V180.5" stroke="#000" stroke-width="1.1"/>
<text transform="translate(555.35 190.8) scale(0.99 1)" class="xt">250</text>
<path d="M580.42 174.5V180.5" stroke="#000" stroke-width="1.1"/>
<text transform="translate(580.42 190.8) scale(0.99 1)" class="xt">500</text>
<path d="M605.49 174.5V180.5" stroke="#000" stroke-width="1.1"/>
<text transform="translate(605.49 190.8) scale(0.99 1)" class="xt">1000</text>
<text transform="translate(518.55 24.2) scale(1.1 1)" class="ti">A549</text>
<text transform="translate(517.65 207) scale(1.09 1)" class="xa">Carfilzomib (nM)</text>
<text transform="translate(387.3 178.4) rotate(-90) scale(1.17 1)" class="ya">normalized</text>
<text transform="translate(387.3 117) rotate(-90) scale(1.11 1)" class="ya">subunit</text>
<text transform="translate(387.3 75.9) rotate(-90) scale(1.13 1)" class="ya">activity</text>
<rect x="647.9" y="48.1" width="14.5" height="6.8" fill="#000"/>
<rect x="649" y="49.2" width="12.3" height="4.6" fill="#0000ff"/>
<text transform="translate(669.5 55.1) scale(0.9 1)" class="lg">B1</text>
<rect x="647.9" y="65.6" width="14.5" height="6.8" fill="#000"/>
<rect x="649" y="66.7" width="12.3" height="4.6" fill="#00d800"/>
<text transform="translate(669.5 72.6) scale(0.9 1)" class="lg">B2</text>
<rect x="647.9" y="83.1" width="14.5" height="6.8" fill="#000"/>
<rect x="649" y="84.2" width="12.3" height="4.6" fill="#ff0000"/>
<text transform="translate(669.5 90.1) scale(0.9 1)" class="lg">B5</text>
</g>
<g>
<rect x="420.95" y="318.85" width="4.5" height="87.65" fill="#000"/>
<rect x="421.75" y="319.65" width="2.9" height="86.85" fill="#0000e6"/>
<rect x="427.95" y="318.85" width="4.5" height="87.65" fill="#000"/>
<rect x="428.75" y="319.65" width="2.9" height="86.85" fill="#00be00"/>
<rect x="434.95" y="318.85" width="4.5" height="87.65" fill="#000"/>
<rect x="435.75" y="319.65" width="2.9" height="86.85" fill="#e60000"/>
<rect x="446.02" y="298.96" width="4.5" height="107.54" fill="#000"/>
<rect x="446.82" y="299.76" width="2.9" height="106.74" fill="#0000e6"/>
<rect x="453.02" y="317" width="4.5" height="89.5" fill="#000"/>
<rect x="453.82" y="317.8" width="2.9" height="88.7" fill="#00be00"/>
<rect x="460.02" y="316.74" width="4.5" height="89.76" fill="#000"/>
<rect x="460.82" y="317.54" width="2.9" height="88.96" fill="#e60000"/>
<rect x="471.09" y="305.39" width="4.5" height="101.11" fill="#000"/>
<rect x="471.89" y="306.19" width="2.9" height="100.31" fill="#0000e6"/>
<rect x="478.09" y="325.01" width="4.5" height="81.49" fill="#000"/>
<rect x="478.89" y="325.81" width="2.9" height="80.69" fill="#00be00"/>
<rect x="485.09" y="360.92" width="4.5" height="45.58" fill="#000"/>
<rect x="485.89" y="361.72" width="2.9" height="44.78" fill="#e60000"/>
<rect x="496.16" y="302.92" width="4.5" height="103.58" fill="#000"/>
<rect x="496.96" y="303.72" width="2.9" height="102.78" fill="#0000e6"/>
<rect x="503.16" y="317.71" width="4.5" height="88.79" fill="#000"/>
<rect x="503.96" y="318.51" width="2.9" height="87.99" fill="#00be00"/>
<rect x="510.16" y="372.8" width="4.5" height="33.7" fill="#000"/>
<rect x="510.96" y="373.6" width="2.9" height="32.9" fill="#e60000"/>
<rect x="521.23" y="299.58" width="4.5" height="106.92" fill="#000"/>
<rect x="522.03" y="300.38" width="2.9" height="106.12" fill="#0000e6"/>
<rect x="528.23" y="314.89" width="4.5" height="91.61" fill="#000"/>
<rect x="529.03" y="315.69" width="2.9" height="90.81" fill="#00be00"/>
<rect x="535.23" y="392.51" width="4.5" height="13.99" fill="#000"/>
<rect x="536.03" y="393.31" width="2.9" height="13.19" fill="#e60000"/>
<rect x="546.3" y="296.24" width="4.5" height="110.26" fill="#000"/>
<rect x="547.1" y="297.04" width="2.9" height="109.46" fill="#0000e6"/>
<rect x="553.3" y="311.81" width="4.5" height="94.69" fill="#000"/>
<rect x="554.1" y="312.61" width="2.9" height="93.89" fill="#00be00"/>
<rect x="560.3" y="398.32" width="4.5" height="8.18" fill="#000"/>
<rect x="561.1" y="399.12" width="2.9" height="7.38" fill="#e60000"/>
<rect x="571.37" y="320.96" width="4.5" height="85.54" fill="#000"/>
<rect x="572.17" y="321.76" width="2.9" height="84.74" fill="#0000e6"/>
<rect x="578.37" y="327.21" width="4.5" height="79.29" fill="#000"/>
<rect x="579.17" y="328.01" width="2.9" height="78.49" fill="#00be00"/>
<rect x="585.37" y="402.89" width="4.5" height="3.61" fill="#000"/>
<rect x="586.17" y="403.69" width="2.9" height="2.81" fill="#e60000"/>
<rect x="596.44" y="355.99" width="4.5" height="50.51" fill="#000"/>
<rect x="597.24" y="356.79" width="2.9" height="49.71" fill="#0000e6"/>
<rect x="603.44" y="360.3" width="4.5" height="46.2" fill="#000"/>
<rect x="604.24" y="361.1" width="2.9" height="45.4" fill="#00be00"/>
<rect x="610.44" y="404.74" width="4.5" height="1.76" fill="#000"/>
<rect x="611.24" y="405.54" width="2.9" height="0.96" fill="#e60000"/>
<path d="M418.5 274.5V406.5H618.6" fill="none" stroke="#000" stroke-width="1.3"/>
<path d="M413.5 406.5H418.5" stroke="#000" stroke-width="1"/>
<text x="411.5" y="410" class="yt">0</text>
<path d="M413.5 362.5H418.5" stroke="#000" stroke-width="1"/>
<text x="411.5" y="366" class="yt">50</text>
<path d="M413.5 318.5H418.5" stroke="#000" stroke-width="1"/>
<text x="411.5" y="322" class="yt">100</text>
<path d="M413.5 274.5H418.5" stroke="#000" stroke-width="1"/>
<text x="411.5" y="278" class="yt">150</text>
<path d="M430 406.5V412.5" stroke="#000" stroke-width="1.1"/>
<text transform="translate(430 422.8) scale(0.99 1)" class="xt">0</text>
<path d="M455.07 406.5V412.5" stroke="#000" stroke-width="1.1"/>
<text transform="translate(455.07 422.8) scale(0.99 1)" class="xt">15.6</text>
<path d="M480.14 406.5V412.5" stroke="#000" stroke-width="1.1"/>
<text transform="translate(480.14 422.8) scale(0.99 1)" class="xt">31.25</text>
<path d="M505.21 406.5V412.5" stroke="#000" stroke-width="1.1"/>
<text transform="translate(505.21 422.8) scale(0.99 1)" class="xt">62.5</text>
<path d="M530.28 406.5V412.5" stroke="#000" stroke-width="1.1"/>
<text transform="translate(530.28 422.8) scale(0.99 1)" class="xt">125</text>
<path d="M555.35 406.5V412.5" stroke="#000" stroke-width="1.1"/>
<text transform="translate(555.35 422.8) scale(0.99 1)" class="xt">250</text>
<path d="M580.42 406.5V412.5" stroke="#000" stroke-width="1.1"/>
<text transform="translate(580.42 422.8) scale(0.99 1)" class="xt">500</text>
<path d="M605.49 406.5V412.5" stroke="#000" stroke-width="1.1"/>
<text transform="translate(605.49 422.8) scale(0.99 1)" class="xt">1000</text>
<text transform="translate(518.55 256.2) scale(1.1 1)" class="ti">H460</text>
<text transform="translate(517.65 439) scale(1.09 1)" class="xa">Carfilzomib (nM)</text>
<text transform="translate(387.3 410.4) rotate(-90) scale(1.17 1)" class="ya">normalized</text>
<text transform="translate(387.3 349) rotate(-90) scale(1.11 1)" class="ya">subunit</text>
<text transform="translate(387.3 307.9) rotate(-90) scale(1.13 1)" class="ya">activity</text>
<rect x="647.9" y="280.1" width="14.5" height="6.8" fill="#000"/>
<rect x="649" y="281.2" width="12.3" height="4.6" fill="#0000ff"/>
<text transform="translate(669.5 287.1) scale(0.9 1)" class="lg">B1</text>
<rect x="647.9" y="297.6" width="14.5" height="6.8" fill="#000"/>
<rect x="649" y="298.7" width="12.3" height="4.6" fill="#00d800"/>
<text transform="translate(669.5 304.6) scale(0.9 1)" class="lg">B2</text>
<rect x="647.9" y="315.1" width="14.5" height="6.8" fill="#000"/>
<rect x="649" y="316.2" width="12.3" height="4.6" fill="#ff0000"/>
<text transform="translate(669.5 322.1) scale(0.9 1)" class="lg">B5</text>
</g>
<g>
<rect x="420.95" y="550.95" width="4.5" height="87.65" fill="#000"/>
<rect x="421.75" y="551.75" width="2.9" height="86.85" fill="#0000e6"/>
<rect x="427.95" y="550.95" width="4.5" height="87.65" fill="#000"/>
<rect x="428.75" y="551.75" width="2.9" height="86.85" fill="#00be00"/>
<rect x="434.95" y="550.95" width="4.5" height="87.65" fill="#000"/>
<rect x="435.75" y="551.75" width="2.9" height="86.85" fill="#e60000"/>
<rect x="446.02" y="548.84" width="4.5" height="89.76" fill="#000"/>
<rect x="446.82" y="549.64" width="2.9" height="88.96" fill="#0000e6"/>
<rect x="453.02" y="545.5" width="4.5" height="93.1" fill="#000"/>
<rect x="453.82" y="546.3" width="2.9" height="92.3" fill="#00be00"/>
<rect x="460.02" y="585.89" width="4.5" height="52.71" fill="#000"/>
<rect x="460.82" y="586.69" width="2.9" height="51.91" fill="#e60000"/>
<rect x="471.09" y="528.95" width="4.5" height="109.65" fill="#000"/>
<rect x="471.89" y="529.75" width="2.9" height="108.85" fill="#0000e6"/>
<rect x="478.09" y="540.3" width="4.5" height="98.3" fill="#000"/>
<rect x="478.89" y="541.1" width="2.9" height="97.5" fill="#00be00"/>
<rect x="485.09" y="600.23" width="4.5" height="38.37" fill="#000"/>
<rect x="485.89" y="601.03" width="2.9" height="37.57" fill="#e60000"/>
<rect x="496.16" y="527.1" width="4.5" height="111.5" fill="#000"/>
<rect x="496.96" y="527.9" width="2.9" height="110.7" fill="#0000e6"/>
<rect x="503.16" y="543.65" width="4.5" height="94.95" fill="#000"/>
<rect x="503.96" y="544.45" width="2.9" height="94.15" fill="#00be00"/>
<rect x="510.16" y="614.75" width="4.5" height="23.85" fill="#000"/>
<rect x="510.96" y="615.55" width="2.9" height="23.05" fill="#e60000"/>
<rect x="521.23" y="523.76" width="4.5" height="114.84" fill="#000"/>
<rect x="522.03" y="524.56" width="2.9" height="114.04" fill="#0000e6"/>
<rect x="528.23" y="541.18" width="4.5" height="97.42" fill="#000"/>
<rect x="529.03" y="541.98" width="2.9" height="96.62" fill="#00be00"/>
<rect x="535.23" y="621.44" width="4.5" height="17.16" fill="#000"/>
<rect x="536.03" y="622.24" width="2.9" height="16.36" fill="#e60000"/>
<rect x="546.3" y="528.07" width="4.5" height="110.53" fill="#000"/>
<rect x="547.1" y="528.87" width="2.9" height="109.73" fill="#0000e6"/>
<rect x="553.3" y="539.34" width="4.5" height="99.26" fill="#000"/>
<rect x="554.1" y="540.14" width="2.9" height="98.46" fill="#00be00"/>
<rect x="560.3" y="628.13" width="4.5" height="10.47" fill="#000"/>
<rect x="561.1" y="628.93" width="2.9" height="9.67" fill="#e60000"/>
<rect x="571.37" y="563.27" width="4.5" height="75.33" fill="#000"/>
<rect x="572.17" y="564.07" width="2.9" height="74.53" fill="#0000e6"/>
<rect x="578.37" y="580.34" width="4.5" height="58.26" fill="#000"/>
<rect x="579.17" y="581.14" width="2.9" height="57.46" fill="#00be00"/>
<rect x="585.37" y="629.98" width="4.5" height="8.62" fill="#000"/>
<rect x="586.17" y="630.78" width="2.9" height="7.82" fill="#e60000"/>
<rect x="596.44" y="557.11" width="4.5" height="81.49" fill="#000"/>
<rect x="597.24" y="557.91" width="2.9" height="80.69" fill="#0000e6"/>
<rect x="603.44" y="569.96" width="4.5" height="68.64" fill="#000"/>
<rect x="604.24" y="570.76" width="2.9" height="67.84" fill="#00be00"/>
<rect x="610.44" y="628.13" width="4.5" height="10.47" fill="#000"/>
<rect x="611.24" y="628.93" width="2.9" height="9.67" fill="#e60000"/>
<path d="M418.5 506.6V638.6H618.6" fill="none" stroke="#000" stroke-width="1.3"/>
<path d="M413.5 638.6H418.5" stroke="#000" stroke-width="1"/>
<text x="411.5" y="642" class="yt">0</text>
<path d="M413.5 594.6H418.5" stroke="#000" stroke-width="1"/>
<text x="411.5" y="598" class="yt">50</text>
<path d="M413.5 550.6H418.5" stroke="#000" stroke-width="1"/>
<text x="411.5" y="554" class="yt">100</text>
<path d="M413.5 506.6H418.5" stroke="#000" stroke-width="1"/>
<text x="411.5" y="510" class="yt">150</text>
<path d="M430 638.6V644.6" stroke="#000" stroke-width="1.1"/>
<text transform="translate(430 654.9) scale(0.99 1)" class="xt">0</text>
<path d="M455.07 638.6V644.6" stroke="#000" stroke-width="1.1"/>
<text transform="translate(455.07 654.9) scale(0.99 1)" class="xt">15.6</text>
<path d="M480.14 638.6V644.6" stroke="#000" stroke-width="1.1"/>
<text transform="translate(480.14 654.9) scale(0.99 1)" class="xt">31.25</text>
<path d="M505.21 638.6V644.6" stroke="#000" stroke-width="1.1"/>
<text transform="translate(505.21 654.9) scale(0.99 1)" class="xt">62.5</text>
<path d="M530.28 638.6V644.6" stroke="#000" stroke-width="1.1"/>
<text transform="translate(530.28 654.9) scale(0.99 1)" class="xt">125</text>
<path d="M555.35 638.6V644.6" stroke="#000" stroke-width="1.1"/>
<text transform="translate(555.35 654.9) scale(0.99 1)" class="xt">250</text>
<path d="M580.42 638.6V644.6" stroke="#000" stroke-width="1.1"/>
<text transform="translate(580.42 654.9) scale(0.99 1)" class="xt">500</text>
<path d="M605.49 638.6V644.6" stroke="#000" stroke-width="1.1"/>
<text transform="translate(605.49 654.9) scale(0.99 1)" class="xt">1000</text>
<text transform="translate(518.55 488.3) scale(1.1 1)" class="ti">H1703</text>
<text transform="translate(517.65 671.1) scale(1.09 1)" class="xa">Carfilzomib (nM)</text>
<text transform="translate(387.3 642.5) rotate(-90) scale(1.17 1)" class="ya">normalized</text>
<text transform="translate(387.3 581.1) rotate(-90) scale(1.11 1)" class="ya">subunit</text>
<text transform="translate(387.3 540) rotate(-90) scale(1.13 1)" class="ya">activity</text>
<rect x="647.9" y="512.2" width="14.5" height="6.8" fill="#000"/>
<rect x="649" y="513.3" width="12.3" height="4.6" fill="#0000ff"/>
<text transform="translate(669.5 519.2) scale(0.9 1)" class="lg">B1</text>
<rect x="647.9" y="529.7" width="14.5" height="6.8" fill="#000"/>
<rect x="649" y="530.8" width="12.3" height="4.6" fill="#00d800"/>
<text transform="translate(669.5 536.7) scale(0.9 1)" class="lg">B2</text>
<rect x="647.9" y="547.2" width="14.5" height="6.8" fill="#000"/>
<rect x="649" y="548.3" width="12.3" height="4.6" fill="#ff0000"/>
<text transform="translate(669.5 554.2) scale(0.9 1)" class="lg">B5</text>
</g>
<g>
<rect x="420.95" y="804.96" width="4.5" height="65.74" fill="#000"/>
<rect x="421.75" y="805.76" width="2.9" height="64.94" fill="#0000e6"/>
<rect x="427.95" y="804.96" width="4.5" height="65.74" fill="#000"/>
<rect x="428.75" y="805.76" width="2.9" height="64.94" fill="#00be00"/>
<rect x="434.95" y="804.96" width="4.5" height="65.74" fill="#000"/>
<rect x="435.75" y="805.76" width="2.9" height="64.94" fill="#e60000"/>
<rect x="446.02" y="802.32" width="4.5" height="68.38" fill="#000"/>
<rect x="446.82" y="803.12" width="2.9" height="67.58" fill="#0000e6"/>
<rect x="453.02" y="769.92" width="4.5" height="100.78" fill="#000"/>
<rect x="453.82" y="770.72" width="2.9" height="99.98" fill="#00be00"/>
<rect x="460.02" y="826.61" width="4.5" height="44.09" fill="#000"/>
<rect x="460.82" y="827.41" width="2.9" height="43.29" fill="#e60000"/>
<rect x="471.09" y="798.1" width="4.5" height="72.6" fill="#000"/>
<rect x="471.89" y="798.9" width="2.9" height="71.8" fill="#0000e6"/>
<rect x="478.09" y="765.89" width="4.5" height="104.81" fill="#000"/>
<rect x="478.89" y="766.69" width="2.9" height="104.01" fill="#00be00"/>
<rect x="485.09" y="845.62" width="4.5" height="25.08" fill="#000"/>
<rect x="485.89" y="846.42" width="2.9" height="24.28" fill="#e60000"/>
<rect x="496.16" y="801.07" width="4.5" height="69.63" fill="#000"/>
<rect x="496.96" y="801.87" width="2.9" height="68.83" fill="#0000e6"/>
<rect x="503.16" y="761.01" width="4.5" height="109.69" fill="#000"/>
<rect x="503.96" y="761.81" width="2.9" height="108.89" fill="#00be00"/>
<rect x="510.16" y="860.6" width="4.5" height="10.1" fill="#000"/>
<rect x="510.96" y="861.4" width="2.9" height="9.3" fill="#e60000"/>
<rect x="521.23" y="791.63" width="4.5" height="79.07" fill="#000"/>
<rect x="522.03" y="792.43" width="2.9" height="78.27" fill="#0000e6"/>
<rect x="528.23" y="747.81" width="4.5" height="122.89" fill="#000"/>
<rect x="529.03" y="748.61" width="2.9" height="122.09" fill="#00be00"/>
<rect x="535.23" y="863.37" width="4.5" height="7.33" fill="#000"/>
<rect x="536.03" y="864.17" width="2.9" height="6.53" fill="#e60000"/>
<rect x="546.3" y="798.1" width="4.5" height="72.6" fill="#000"/>
<rect x="547.1" y="798.9" width="2.9" height="71.8" fill="#0000e6"/>
<rect x="553.3" y="762.79" width="4.5" height="107.91" fill="#000"/>
<rect x="554.1" y="763.59" width="2.9" height="107.11" fill="#00be00"/>
<rect x="560.3" y="864.89" width="4.5" height="5.81" fill="#000"/>
<rect x="561.1" y="865.69" width="2.9" height="5.01" fill="#e60000"/>
<rect x="571.37" y="809.39" width="4.5" height="61.31" fill="#000"/>
<rect x="572.17" y="810.19" width="2.9" height="60.51" fill="#0000e6"/>
<rect x="578.37" y="789.19" width="4.5" height="81.51" fill="#000"/>
<rect x="579.17" y="789.99" width="2.9" height="80.71" fill="#00be00"/>
<rect x="585.37" y="865.82" width="4.5" height="4.88" fill="#000"/>
<rect x="586.17" y="866.62" width="2.9" height="4.08" fill="#e60000"/>
<rect x="596.44" y="826.88" width="4.5" height="43.82" fill="#000"/>
<rect x="597.24" y="827.68" width="2.9" height="43.02" fill="#0000e6"/>
<rect x="603.44" y="812.49" width="4.5" height="58.21" fill="#000"/>
<rect x="604.24" y="813.29" width="2.9" height="57.41" fill="#00be00"/>
<rect x="610.44" y="866.08" width="4.5" height="4.62" fill="#000"/>
<rect x="611.24" y="866.88" width="2.9" height="3.82" fill="#e60000"/>
<path d="M418.5 738.7V870.7H618.6" fill="none" stroke="#000" stroke-width="1.3"/>
<path d="M413.5 870.7H418.5" stroke="#000" stroke-width="1"/>
<text x="411.5" y="874" class="yt">0</text>
<path d="M413.5 837.7H418.5" stroke="#000" stroke-width="1"/>
<text x="411.5" y="842" class="yt">50</text>
<path d="M413.5 804.7H418.5" stroke="#000" stroke-width="1"/>
<text x="411.5" y="808" class="yt">100</text>
<path d="M413.5 771.7H418.5" stroke="#000" stroke-width="1"/>
<text x="411.5" y="776" class="yt">150</text>
<path d="M413.5 738.7H418.5" stroke="#000" stroke-width="1"/>
<text x="411.5" y="742" class="yt">200</text>
<path d="M430 870.7V876.7" stroke="#000" stroke-width="1.1"/>
<text transform="translate(430 887) scale(0.99 1)" class="xt">0</text>
<path d="M455.07 870.7V876.7" stroke="#000" stroke-width="1.1"/>
<text transform="translate(455.07 887) scale(0.99 1)" class="xt">15.6</text>
<path d="M480.14 870.7V876.7" stroke="#000" stroke-width="1.1"/>
<text transform="translate(480.14 887) scale(0.99 1)" class="xt">31.25</text>
<path d="M505.21 870.7V876.7" stroke="#000" stroke-width="1.1"/>
<text transform="translate(505.21 887) scale(0.99 1)" class="xt">62.5</text>
<path d="M530.28 870.7V876.7" stroke="#000" stroke-width="1.1"/>
<text transform="translate(530.28 887) scale(0.99 1)" class="xt">125</text>
<path d="M555.35 870.7V876.7" stroke="#000" stroke-width="1.1"/>
<text transform="translate(555.35 887) scale(0.99 1)" class="xt">250</text>
<path d="M580.42 870.7V876.7" stroke="#000" stroke-width="1.1"/>
<text transform="translate(580.42 887) scale(0.99 1)" class="xt">500</text>
<path d="M605.49 870.7V876.7" stroke="#000" stroke-width="1.1"/>
<text transform="translate(605.49 887) scale(0.99 1)" class="xt">1000</text>
<text transform="translate(518.55 720.4) scale(1.1 1)" class="ti">H157</text>
<text transform="translate(517.65 903.2) scale(1.09 1)" class="xa">Carfilzomib (nM)</text>
<text transform="translate(387.3 874.6) rotate(-90) scale(1.17 1)" class="ya">normalized</text>
<text transform="translate(387.3 813.2) rotate(-90) scale(1.11 1)" class="ya">subunit</text>
<text transform="translate(387.3 772.1) rotate(-90) scale(1.13 1)" class="ya">activity</text>
<rect x="647.9" y="744.3" width="14.5" height="6.8" fill="#000"/>
<rect x="649" y="745.4" width="12.3" height="4.6" fill="#0000ff"/>
<text transform="translate(669.5 751.3) scale(0.9 1)" class="lg">B1</text>
<rect x="647.9" y="761.8" width="14.5" height="6.8" fill="#000"/>
<rect x="649" y="762.9" width="12.3" height="4.6" fill="#00d800"/>
<text transform="translate(669.5 768.8) scale(0.9 1)" class="lg">B2</text>
<rect x="647.9" y="779.3" width="14.5" height="6.8" fill="#000"/>
<rect x="649" y="780.4" width="12.3" height="4.6" fill="#ff0000"/>
<text transform="translate(669.5 786.3) scale(0.9 1)" class="lg">B5</text>
</g>
</g>
</svg>
</body></html>
